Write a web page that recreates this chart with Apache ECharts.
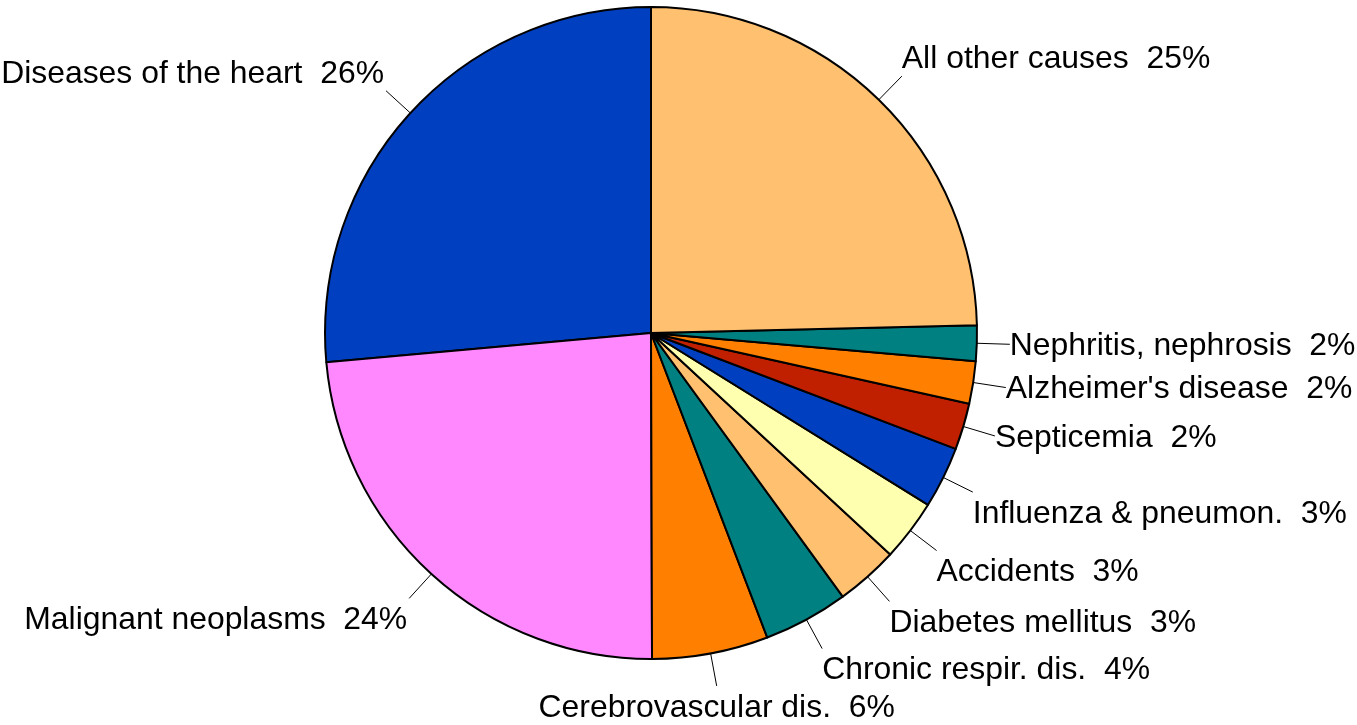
<!DOCTYPE html>
<html>
<head>
<meta charset="utf-8">
<script src="https://cdn.jsdelivr.net/npm/echarts@6/dist/echarts.min.js"></script>
<style>
  html, body { margin: 0; padding: 0; background: #fff; }
  #pie { width: 1357px; height: 725px; }
</style>
</head>
<body>
<div id="pie"></div>
<script>
// causes go counter-clockwise from 12 o'clock
var causes = [
  'Diseases of the heart', 'Malignant neoplasms', 'Cerebrovascular dis.',
  'Chronic respir. dis.', 'Diabetes mellitus', 'Accidents',
  'Influenza & pneumon.', 'Septicemia', "Alzheimer's disease",
  'Nephritis, nephrosis', 'All other causes'
];
var shares = [26.4, 23.6, 5.75, 4.2, 3.1, 3.05, 3.05, 2.3, 2.1, 1.75, 24.6];

var palette = ['#0040C0', '#FF88FF', '#FF8000', '#008080', '#FFC070', '#FFFFB0',
  '#0040C0', '#C02000', '#FF8000', '#008080', '#FFC070'];

var myChart = echarts.init(document.getElementById('pie'));

var option = {
  backgroundColor: '#ffffff',
  animation: false,
  color: palette,
  series: [
    {
      type: 'pie',
      center: [651, 333],
      radius: 326,
      startAngle: 90,
      clockwise: false,
      avoidLabelOverlap: false,
      emphasis: { disabled: true },
      itemStyle: { borderColor: '#000', borderWidth: 2 },
      label: {
        show: true,
        position: 'outside',
        color: '#000',
        fontFamily: '"Liberation Sans", Arial, sans-serif',
        fontSize: 31.9,
        formatter: function (p) {
          return p.name + '  ' + Math.round(p.percent) + '%';
        }
      },
      labelLine: {
        show: true,
        length: 33,
        length2: 0,
        lineStyle: { color: '#000', width: 1 }
      },
      // put text at the end of the leader, like the original
      labelLayout: function (p) {
        var pts = p.labelLinePoints;
        if (!pts) return {};
        var ux = pts[1][0] - pts[0][0], uy = pts[1][1] - pts[0][1];
        var len = Math.sqrt(ux * ux + uy * uy);
        ux /= len; uy /= len;
        var ex = pts[1][0], ey = pts[1][1];
        var align = ux > 0 ? 'left' : 'right';
        var x = ex + (ux > 0 ? 0 : -2);
        var va = 'middle', y = ey + 2;
        if (Math.abs(ux) < 0.34) { align = 'center'; x = ex; }
        if (uy > 0.34) { va = 'top'; y = ey + 6; }
        else if (uy < -0.34) { va = 'bottom'; y = ey - 0.5; }
        return { x: x, y: y, align: align, verticalAlign: va, labelLinePoints: pts };
      },
      data: causes.map(function (c, i) {
        return { name: c, value: shares[i] };
      })
    }
  ]
};

myChart.setOption(option, true);
</script>
</body>
</html>
